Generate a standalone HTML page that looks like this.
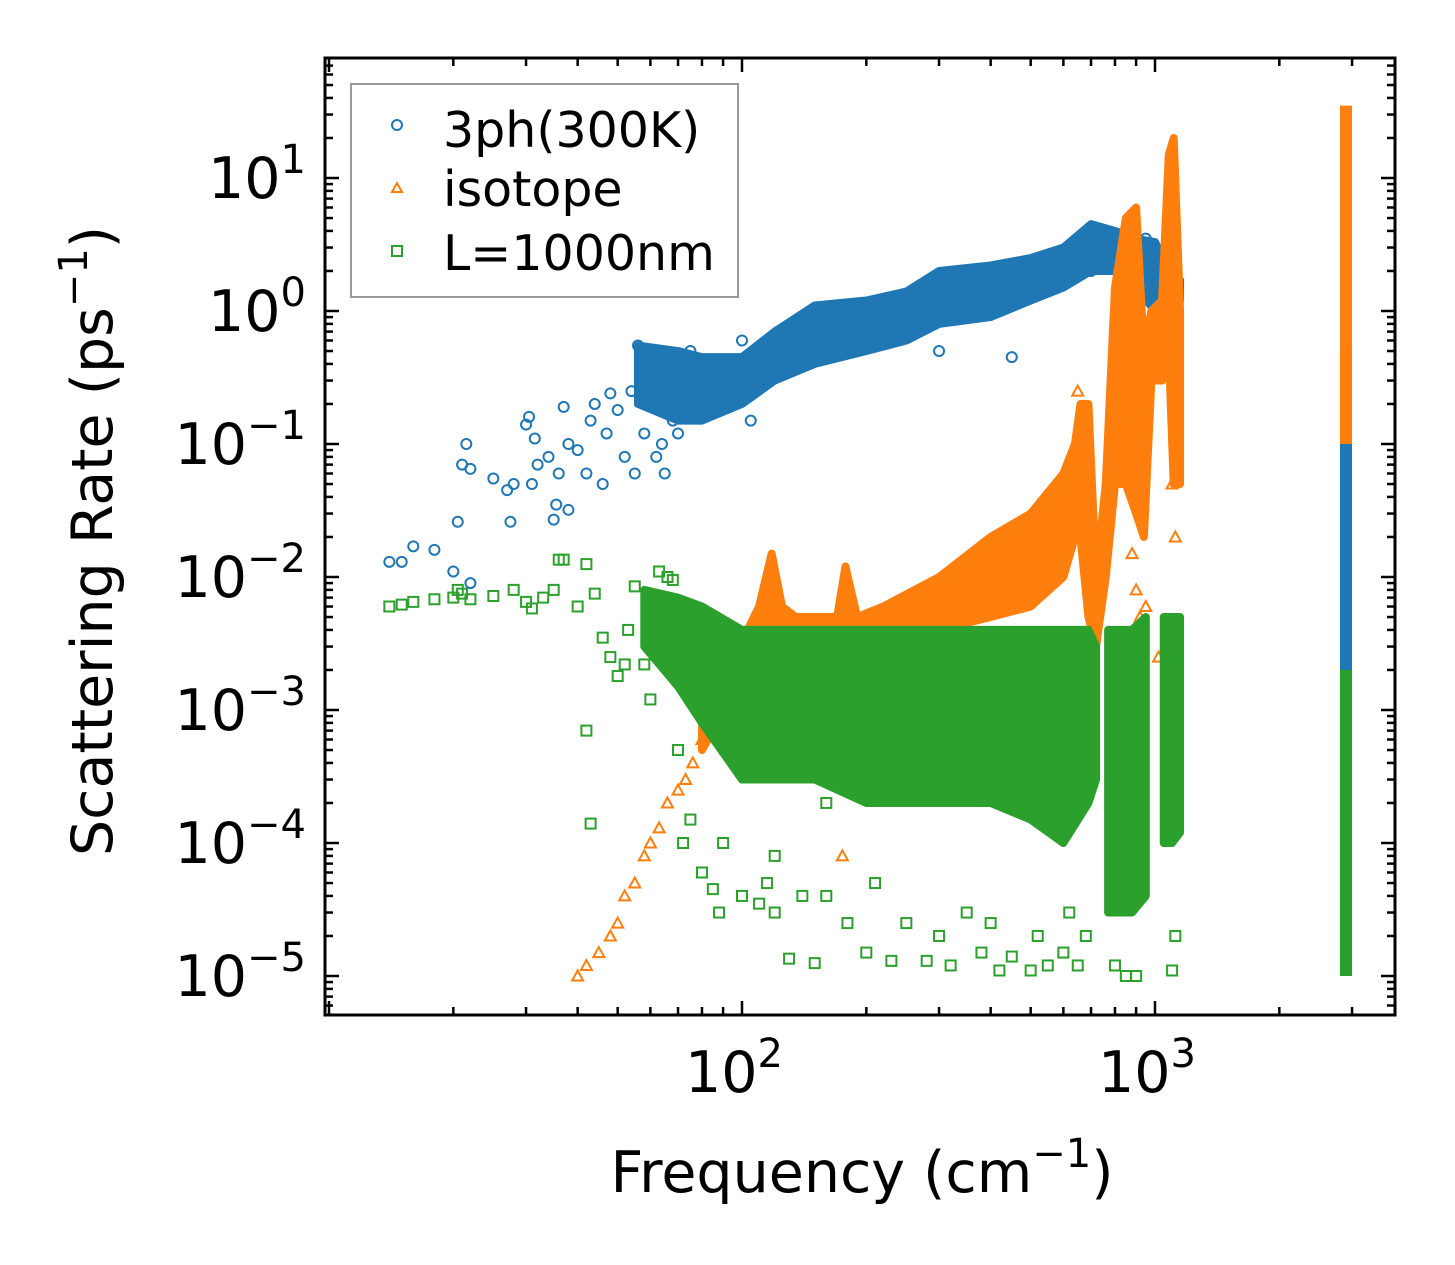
<!DOCTYPE html>
<html><head><meta charset="utf-8"><style>
html,body{margin:0;padding:0;background:#fff;}
svg{display:block;font-family:"DejaVu Sans","Liberation Sans",sans-serif;}
</style></head><body>
<svg id="chart" width="1455" height="1265" viewBox="0 0 1455 1265" xmlns="http://www.w3.org/2000/svg">
<rect width="1455" height="1265" fill="#fff"/>
<g id="marks"></g>
<g id="axes"></g>
<text x="862" y="1192" font-size="57" text-anchor="middle">Frequency (cm<tspan font-size="40" dy="-25">−1</tspan><tspan dy="25">)</tspan></text>
<text transform="translate(112,541) rotate(-90)" font-size="57" text-anchor="middle">Scattering Rate (ps<tspan font-size="40" dy="-25">−1</tspan><tspan dy="25">)</tspan></text>
<g>
<rect x="351" y="84" width="387" height="213" fill="#fff" stroke="#999" stroke-width="2"/>
<circle cx="397" cy="125" r="5" fill="none" stroke="#1f77b4" stroke-width="2"/>
<text x="443" y="147" font-size="49">3ph(300K)</text>
<polygon points="397,183 402,192 392,192" fill="none" stroke="#ff7f0e" stroke-width="2"/>
<text x="443" y="206" font-size="49">isotope</text>
<rect x="392" y="246" width="10" height="10" fill="none" stroke="#2ca02c" stroke-width="2"/>
<text x="443" y="270" font-size="49">L=1000nm</text>
</g>
</svg>
<script>
// ---- data ----
const blueFreq=[14,15,16,18,20,20.5,21,21.5,22,22,25,27,27.5,28,30,30.5,31,31.5,32,34,35,35.5,36,37,38,38,40,42,43,44,46,47,48,50,52,54,55,56,58,60,62,64,65,68,70,75,90,100,105,300,450,700,950];
const blueRate=[0.013,0.013,0.017,0.016,0.011,0.026,0.07,0.1,0.065,0.009,0.055,0.045,0.026,0.05,0.14,0.16,0.05,0.11,0.07,0.08,0.027,0.035,0.06,0.19,0.1,0.032,0.09,0.06,0.15,0.2,0.05,0.12,0.24,0.18,0.08,0.25,0.06,0.55,0.12,0.28,0.08,0.1,0.06,0.15,0.12,0.5,0.2,0.6,0.15,0.5,0.45,2,3.5];
const blueBandFreq=[56,70,80,100,120,150,200,250,300,400,500,600,700,800,900,1000,1100,1150];
const blueBandLo=[0.2,0.15,0.15,0.2,0.3,0.4,0.5,0.6,0.8,0.9,1.2,1.5,2,2,1.5,1.0,1.0,1.2];
const blueBandHi=[0.55,0.5,0.45,0.45,0.7,1.1,1.2,1.4,2,2.2,2.5,3,4.5,4,3.5,3.3,1.8,1.7];
const orangeFreq=[40,42,45,48,50,52,55,58,60,63,66,70,73,76,80,880,900,920,950,1020,700,680,175,1120,1100,650];
const orangeRate=[0.00001,0.000012,0.000015,0.00002,0.000025,0.00004,0.00005,0.00008,0.0001,0.00013,0.0002,0.00025,0.0003,0.0004,0.0006,0.015,0.008,0.005,0.006,0.0025,0.00045,0.0008,0.00008,0.02,0.05,0.25];
const orangeBandFreq=[80,110,118,125,135,170,178,190,220,300,400,500,600,640,660,690,720,760,800,850,900,940,980,1040,1080,1110,1150];
const orangeBandLo=[0.0005,0.003,0.004,0.003,0.003,0.003,0.003,0.003,0.003,0.004,0.005,0.006,0.01,0.02,0.02,0.005,0.003,0.01,0.05,0.05,0.03,0.02,0.3,0.3,0.5,0.05,0.05];
const orangeBandHi=[0.0008,0.006,0.015,0.006,0.005,0.005,0.012,0.005,0.006,0.01,0.02,0.03,0.06,0.1,0.2,0.2,0.01,0.05,1.5,5,6,0.5,1,1.2,15,20,1];
const greenFreq=[14,15,16,18,20,20.5,21,22,25,28,30,31,33,35,36,37,40,42,44,46,48,50,52,53,55,58,60,63,66,68,42,43,70,72,75,80,85,88,100,110,115,120,130,140,150,160,180,200,210,230,250,280,300,320,350,380,400,420,450,500,520,550,600,620,650,680,160,120,90,800,850,900,1100,1120];
const greenRate=[0.006,0.0062,0.0065,0.0068,0.007,0.008,0.0075,0.0068,0.0072,0.008,0.0065,0.0058,0.007,0.008,0.0135,0.0135,0.006,0.0125,0.0075,0.0035,0.0025,0.0018,0.0022,0.004,0.0085,0.0022,0.0012,0.011,0.01,0.0095,0.0007,0.00014,0.0005,0.0001,0.00015,0.00006,0.000045,0.00003,0.00004,0.000035,0.00005,0.00003,0.0000135,0.00004,0.0000125,0.00004,0.000025,0.000015,0.00005,0.000013,0.000025,0.000013,0.00002,0.000012,0.00003,0.000015,0.000025,0.000011,0.000014,0.000011,0.00002,0.000012,0.000015,0.00003,0.000012,0.00002,0.0002,0.00008,0.0001,0.000012,0.00001,0.00001,0.000011,0.00002];
const greenBandFreq=[58,70,80,100,150,200,300,400,500,600,690,720];
const greenBandLo=[0.003,0.0015,0.0008,0.0003,0.0003,0.0002,0.0002,0.0002,0.00015,0.0001,0.0002,0.0003];
const greenBandHi=[0.008,0.007,0.006,0.004,0.004,0.004,0.004,0.004,0.004,0.004,0.004,0.003];
const greenBand2Freq=[770,830,880,950];
const greenBand2Lo=[0.00003,0.00003,0.00003,0.00004];
const greenBand2Hi=[0.004,0.004,0.004,0.005];
const greenBand3Freq=[1050,1100,1150];
const greenBand3Lo=[0.0001,0.0001,0.00012];
const greenBand3Hi=[0.005,0.005,0.005];
const colFreq=[2900];
const colBlueLo=[0.00001], colBlueHi=[0.5];
const colOrangeLo=[0.1], colOrangeHi=[35];
const colGreenLo=[0.00001], colGreenHi=[0.002];
const xTickVals=[100,1000];
const yTickExps=[-5,-4,-3,-2,-1,0,1];

// ---- axes ----
const L=325,R=1395,T=58,B=1015;
function X(f){return 742+(Math.log10(f)-2)*413;}
function Y(v){return 311-Math.log10(v)*133;}
const NS="http://www.w3.org/2000/svg";
const marks=document.getElementById('marks'), axes=document.getElementById('axes');
function mk(tag,attrs,parent){const e=document.createElementNS(NS,tag);for(const k in attrs)e.setAttribute(k,attrs[k]);parent.appendChild(e);return e;}
const C={b:'#1f77b4',o:'#ff7f0e',g:'#2ca02c'};
function band(fr,lo,hi,col,name){
  const pts=[];for(let i=0;i<fr.length;i++)pts.push(X(fr[i])+','+Y(hi[i]));
  for(let i=fr.length-1;i>=0;i--)pts.push(X(fr[i])+','+Y(lo[i]));
  const p=mk('polygon',{points:pts.join(' '),fill:col,stroke:col,'stroke-width':8,'stroke-linejoin':'round'},marks);
  
  
}
function colBand(lo,hi,col,name){
  const x=X(colFreq[0]);
  const r=mk('rect',{x:x-6,y:Y(hi[0]),width:12,height:Y(lo[0])-Y(hi[0]),fill:col},marks);
  
  
}
function scatter(fr,rt,col,shape,name){
  for(let i=0;i<fr.length;i++){
    const x=X(fr[i]),y=Y(rt[i]);let e;
    if(shape==='c')e=mk('circle',{cx:x,cy:y,r:5,fill:'none',stroke:col,'stroke-width':2},marks);
    else if(shape==='t')e=mk('polygon',{points:`${x},${y-5.5} ${x+5.5},${y+4.5} ${x-5.5},${y+4.5}`,fill:'none',stroke:col,'stroke-width':2},marks);
    else e=mk('rect',{x:x-5,y:y-5,width:10,height:10,fill:'none',stroke:col,'stroke-width':2},marks);
    
    
  }
}
band(blueBandFreq,blueBandLo,blueBandHi,C.b,'3ph-dense-cloud');
colBand(colBlueLo,colBlueHi,C.b,'3ph-high-freq-column');
scatter(blueFreq,blueRate,C.b,'c','3ph-point');
band(orangeBandFreq,orangeBandLo,orangeBandHi,C.o,'isotope-dense-cloud');
colBand(colOrangeLo,colOrangeHi,C.o,'isotope-high-freq-column');
scatter(orangeFreq,orangeRate,C.o,'t','isotope-point');
band(greenBandFreq,greenBandLo,greenBandHi,C.g,'boundary-dense-cloud');
band(greenBand2Freq,greenBand2Lo,greenBand2Hi,C.g,'boundary-dense-cloud-2');
band(greenBand3Freq,greenBand3Lo,greenBand3Hi,C.g,'boundary-dense-cloud-3');
colBand(colGreenLo,colGreenHi,C.g,'boundary-high-freq-column');
scatter(greenFreq,greenRate,C.g,'s','boundary-point');

// frame
const fr=mk('rect',{x:L,y:T,width:R-L,height:B-T,fill:'none',stroke:'#000','stroke-width':3},axes);


for(let d=1;d<=3;d++)for(let m=1;m<10;m++){
  const f=m*Math.pow(10,d);const x=X(f);if(x<L+2||x>R-2)continue;
  const len=m===1?14:8;
  mk('line',{x1:x,y1:B,x2:x,y2:B-len,stroke:'#000','stroke-width':2.5},axes);
  mk('line',{x1:x,y1:T,x2:x,y2:T+len,stroke:'#000','stroke-width':2.5},axes);
}
xTickVals.forEach(v=>{
  const t=mk('text',{x:X(v)-8,y:1092,'font-size':57,'text-anchor':'middle'},axes);
  
  
  t.innerHTML='10<tspan font-size="40" dy="-25">'+Math.round(Math.log10(v))+'</tspan>';
});
for(let d=-6;d<=1;d++)for(let m=1;m<10;m++){
  const v=m*Math.pow(10,d);const y=Y(v);if(y<T+2||y>B-2)continue;
  const len=m===1?14:8;
  mk('line',{x1:L,y1:y,x2:L+len,y2:y,stroke:'#000','stroke-width':2.5},axes);
  mk('line',{x1:R,y1:y,x2:R-len,y2:y,stroke:'#000','stroke-width':2.5},axes);
}
yTickExps.forEach(e=>{
  const t=mk('text',{x:306,y:Y(Math.pow(10,e))+20,'font-size':57,'text-anchor':'end'},axes);
  
  
  t.innerHTML='10<tspan font-size="40" dy="-25">'+(e<0?'−'+(-e):e)+'</tspan>';
});
</script>
</body></html>
